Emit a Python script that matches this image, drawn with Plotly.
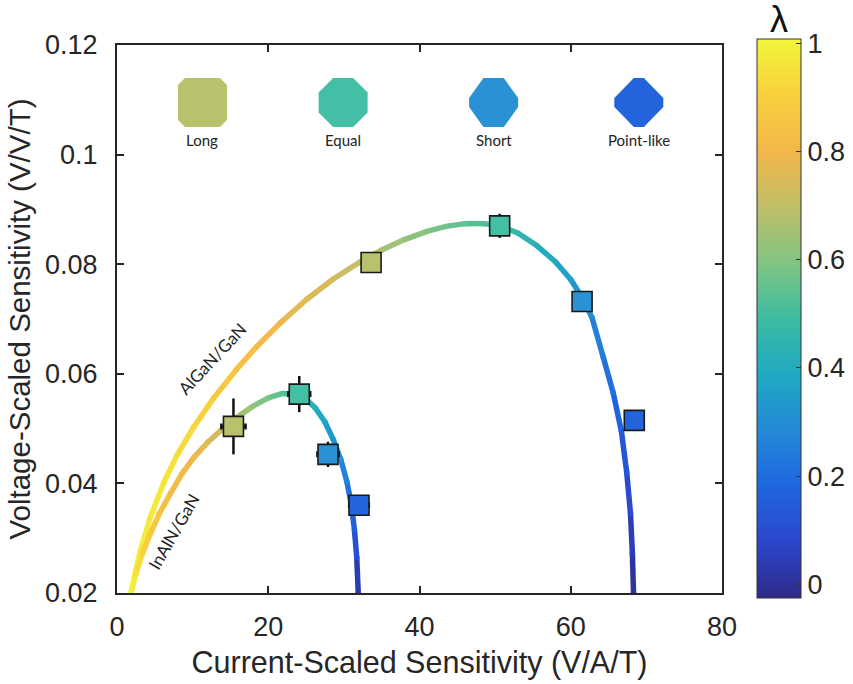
import plotly.graph_objects as go

# ---------------- data ----------------
# AlGaN/GaN model curve: x (V/A/T), y (V/V/T), lambda along curve
algan_x = [1.85, 2.45, 3.1, 4.4, 6.2, 8.0, 10.1, 12.8, 15.8, 18.5, 21.6, 25.1, 28.6, 32.0,
           35.0, 38.0, 41.0, 43.5, 46.0, 48.5, 50.6, 53.0, 55.5, 58.0, 60.0, 61.6, 62.8,
           64.3, 65.6, 66.7, 67.4, 67.9, 68.15, 68.3]
algan_y = [0.0200, 0.0240, 0.0278, 0.0338, 0.0402, 0.0453, 0.0502, 0.0556, 0.0608, 0.0650,
           0.0693, 0.0736, 0.0773, 0.0803, 0.0826, 0.0845, 0.0860, 0.0869, 0.0874, 0.0874,
           0.0870, 0.0857, 0.0834, 0.0804, 0.0772, 0.0737, 0.0703, 0.0630, 0.0566, 0.0495,
           0.0420, 0.0345, 0.0272, 0.0200]
algan_lam = [1.00, 0.99, 0.98, 0.97, 0.955, 0.94, 0.92, 0.89, 0.85, 0.82, 0.79, 0.76, 0.73,
             0.70, 0.67, 0.63, 0.60, 0.57, 0.55, 0.53, 0.50, 0.47, 0.43, 0.39, 0.36, 0.33,
             0.30, 0.25, 0.21, 0.17, 0.13, 0.09, 0.05, 0.02]

# InAlN/GaN model curve
inaln_x = [1.85, 2.5, 3.3, 4.4, 5.6, 7.0, 8.6, 10.2, 12.0, 14.0, 16.0, 18.0, 20.0, 21.8,
           23.4, 24.8, 26.2, 27.5, 28.6, 29.6, 30.4, 31.0, 31.4, 31.7, 31.9]
inaln_y = [0.0200, 0.0235, 0.0270, 0.0308, 0.0345, 0.0380, 0.0418, 0.0448, 0.0475, 0.0500,
           0.0522, 0.0541, 0.0556, 0.0564, 0.0563, 0.0556, 0.0538, 0.0512, 0.0480, 0.0443,
           0.0403, 0.0360, 0.0315, 0.0265, 0.0200]
inaln_lam = [1.00, 0.95, 0.92, 0.88, 0.85, 0.83, 0.81, 0.79, 0.76, 0.72, 0.67, 0.62, 0.58,
             0.54, 0.50, 0.46, 0.42, 0.38, 0.34, 0.30, 0.26, 0.21, 0.16, 0.10, 0.03]

# measured devices
geometry = ["Long", "Equal", "Short", "Point-like"]
algan_pts_x = [33.6, 50.6, 61.5, 68.4]
algan_pts_y = [0.0803, 0.0870, 0.0732, 0.0515]
algan_err_x = [0.0, 0.0, 0.0, 0.0]
algan_err_y = [0.0, 0.0022, 0.0, 0.0]
inaln_pts_x = [15.4, 24.1, 27.9, 32.0]
inaln_pts_y = [0.0504, 0.0563, 0.0453, 0.0360]
inaln_err_x = [1.6, 1.45, 1.4, 1.3]
inaln_err_y = [0.0051, 0.0033, 0.0023, 0.0010]

# ---------------- style ----------------
geom_colors = ["#bac16c", "#43bfa5", "#2a91d4", "#2364dd"]
cs_stops = [(0.00, "#2e2a87"), (0.10, "#2b46cc"), (0.20, "#1f66e0"), (0.30, "#2389d6"),
            (0.40, "#20a9c2"), (0.50, "#3cbca2"), (0.60, "#82c482"), (0.70, "#c0bf68"),
            (0.80, "#f3b74a"), (0.90, "#f8d03c"), (1.00, "#f2f63a")]
colorscale = [[s, c] for s, c in cs_stops]


def hex2rgb(h):
    h = h.lstrip("#")
    return [int(h[i:i + 2], 16) for i in (0, 2, 4)]


def cmap(v):
    v = max(0.0, min(1.0, v))
    for (s0, c0), (s1, c1) in zip(cs_stops[:-1], cs_stops[1:]):
        if s0 <= v <= s1:
            t = (v - s0) / (s1 - s0) if s1 > s0 else 0
            a, b = hex2rgb(c0), hex2rgb(c1)
            r = [round(a[i] + (b[i] - a[i]) * t) for i in range(3)]
            return "rgb(%d,%d,%d)" % tuple(r)
    return cs_stops[-1][1]


FONT = "Liberation Sans"
LW = 5.5
fig = go.Figure()


def add_curve(xs, ys, lams, showscale):
    for i in range(len(xs) - 1):
        fig.add_trace(go.Scatter(
            x=[xs[i], xs[i + 1]], y=[ys[i], ys[i + 1]], mode="lines",
            line=dict(color=cmap((lams[i] + lams[i + 1]) / 2), width=LW),
            hoverinfo="skip", showlegend=False))
    fig.add_trace(go.Scatter(
        x=xs, y=ys, mode="markers", showlegend=False, hoverinfo="skip",
        marker=dict(size=LW, color=lams, colorscale=colorscale, cmin=-0.025, cmax=1.008,
                    line=dict(width=0), showscale=showscale,
                    colorbar=dict(
                        thicknessmode="pixels", thickness=44,
                        lenmode="pixels", len=559,
                        x=1.058, xanchor="left", y=1.011, yanchor="top",
                        xpad=0, ypad=0,
                        outlinewidth=1, outlinecolor="#333333",
                        tickvals=[0, 0.2, 0.4, 0.6, 0.8, 1],
                        ticktext=["0", "0.2", "0.4", "0.6", "0.8", "1"],
                        ticks="inside", ticklen=5, tickwidth=1.2, tickcolor="#333333",
                        tickfont=dict(family=FONT, size=27, color="#262626"),
                    ))))


add_curve(algan_x, algan_y, algan_lam, True)
add_curve(inaln_x, inaln_y, inaln_lam, False)

for px, py, ex, ey in [(algan_pts_x, algan_pts_y, algan_err_x, algan_err_y),
                       (inaln_pts_x, inaln_pts_y, inaln_err_x, inaln_err_y)]:
    fig.add_trace(go.Scatter(
        x=px, y=py, mode="markers", showlegend=False, hoverinfo="skip",
        error_x=dict(type="data", array=ex, color="#111111", thickness=2.5, width=3),
        error_y=dict(type="data", array=ey, color="#111111", thickness=2.5, width=0),
        marker=dict(symbol="square", size=20, color=geom_colors,
                    line=dict(color="#1a1a1a", width=1.6))))

# ---------------- geometry icons at top ----------------
icon_cx = [11.3, 29.9, 49.8, 69.0]
icon_cy = 0.1095
label_y = 0.1027
icon_cuts = [(7, 7), (14.5, 14.5), (14.3, 20), (19.5, 20)]
H = 24.5
dx = 80 / 605.0
dy = 0.1 / 548.0
for cx, (ctx, cty), col, name in zip(icon_cx, icon_cuts, geom_colors, geometry):
    pts = [(-H + ctx, H), (H - ctx, H), (H, H - cty), (H, -H + cty),
           (H - ctx, -H), (-H + ctx, -H), (-H, -H + cty), (-H, H - cty)]
    path = "M " + " L ".join("%f,%f" % (cx + a * dx, icon_cy + b * dy) for a, b in pts) + " Z"
    fig.add_shape(type="path", path=path, xref="x", yref="y",
                  fillcolor=col, line=dict(width=0), layer="above")
    fig.add_annotation(x=cx, y=label_y, text=name, showarrow=False,
                       font=dict(family="Lato", size=15, color="#222222"))

fig.add_annotation(x=12.6, y=0.0628, text="AlGaN/GaN", textangle=-47, showarrow=False,
                   font=dict(family="Lato", size=17, color="#222222"))
fig.add_annotation(x=7.5, y=0.0312, text="InAlN/GaN", textangle=-60, showarrow=False,
                   font=dict(family="Lato", size=17, color="#222222"))

# colorbar title
fig.add_annotation(xref="paper", yref="paper", x=1.094, y=1.046, text="λ", showarrow=False,
                   xanchor="center", yanchor="middle",
                   font=dict(family=FONT, size=36, color="#111111"))

axis_common = dict(showgrid=False, zeroline=False, showline=True, mirror="ticks",
                   linecolor="#262626", linewidth=2.2, ticks="inside", ticklen=7,
                   tickwidth=1.5, tickcolor="#262626",
                   tickfont=dict(family=FONT, size=27, color="#262626"))

fig.update_layout(
    width=853, height=684,
    margin=dict(l=117, r=131, t=45, b=91, autoexpand=False),
    paper_bgcolor="white", plot_bgcolor="white",
    font=dict(family=FONT, color="#262626"),
    xaxis=dict(range=[0, 80], tickvals=[0, 20, 40, 60, 80], ticklabelstandoff=8,
               title=dict(text="Current-Scaled Sensitivity (V/A/T)", standoff=11,
                          font=dict(family=FONT, size=30.5, color="#262626")),
               **axis_common),
    yaxis=dict(range=[0.02, 0.12], tickvals=[0.02, 0.04, 0.06, 0.08, 0.1, 0.12],
               ticktext=["0.02", "0.04", "0.06", "0.08", "0.1", "0.12"], ticklabelstandoff=12,
               title=dict(text="Voltage-Scaled Sensitivity (V/V/T)", standoff=6,
                          font=dict(family=FONT, size=29.5, color="#262626")),
               **axis_common),
    showlegend=False,
)

fig.write_html("out.html")
